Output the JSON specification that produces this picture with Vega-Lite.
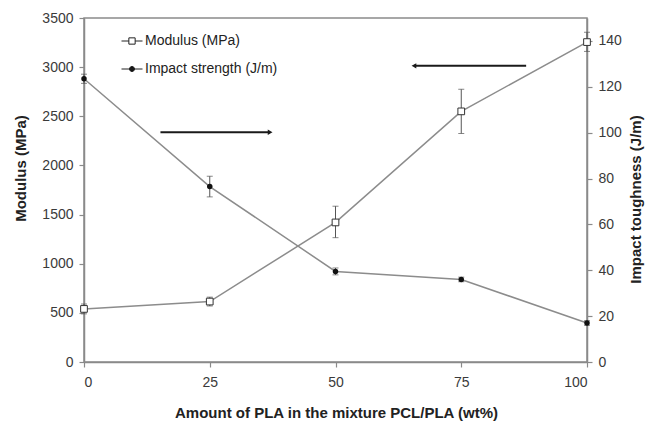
{
  "$schema": "https://vega.github.io/schema/vega-lite/v6.json",
  "width": 503,
  "height": 344,
  "autosize": {"type": "none"},
  "padding": {"left": 84, "top": 18, "right": 58, "bottom": 60},
  "background": "white",
  "config": {
    "view": {"stroke": "#8a8a8a", "strokeWidth": 1.5},
    "font": "Liberation Sans",
    "axis": {
      "grid": false,
      "domainColor": "#8a8a8a",
      "domainWidth": 1.5,
      "tickColor": "#8a8a8a",
      "tickWidth": 1.2,
      "tickSize": 5,
      "labelFont": "Liberation Sans",
      "labelFontSize": 14,
      "labelColor": "#3a3a3a",
      "titleFont": "Liberation Sans",
      "titleFontSize": 15,
      "titleFontWeight": "bold",
      "titleColor": "#222222"
    },
    "legend": {
      "padding": 0,
      "labelFont": "Liberation Sans",
      "labelFontSize": 14,
      "labelColor": "#222222",
      "labelOffset": 2,
      "symbolStrokeColor": "#222222",
      "symbolStrokeWidth": 1,
      "symbolSize": 441,
      "symbolOpacity": 1,
      "rowPadding": 10
    }
  },
  "datasets": {
    "main": [
      {"pla": 0, "modulus": 540, "mod_lo": 490, "mod_hi": 590, "impact": 123.5, "imp_lo": 121.5, "imp_hi": 125.5},
      {"pla": 25, "modulus": 615, "mod_lo": 570, "mod_hi": 660, "impact": 76.5, "imp_lo": 72, "imp_hi": 81},
      {"pla": 50, "modulus": 1420, "mod_lo": 1265, "mod_hi": 1585, "impact": 39.5, "imp_lo": 38, "imp_hi": 41},
      {"pla": 75, "modulus": 2550, "mod_lo": 2325, "mod_hi": 2775, "impact": 36, "imp_lo": 35, "imp_hi": 37},
      {"pla": 100, "modulus": 3255, "mod_lo": 3160, "mod_hi": 3355, "impact": 17, "imp_lo": 16, "imp_hi": 18}
    ],
    "arrows": [
      {"x1": 15.2, "x2": 37.0, "y": 2337, "head": 37.0, "dir": "right"},
      {"x1": 65.6, "x2": 87.9, "y": 3013, "head": 65.6, "dir": "left"}
    ],
    "legend": [
      {"series": "Modulus (MPa)", "px": 0, "py": 0},
      {"series": "Impact strength (J/m)", "px": 0, "py": 0}
    ]
  },
  "layer": [
    {
      "data": {"name": "main"},
      "encoding": {
        "x": {
          "field": "pla", "type": "quantitative",
          "scale": {"domain": [0, 100], "nice": false},
          "axis": {
            "values": [0, 25, 50, 75, 100],
            "labelPadding": 8,
            "title": "Amount of PLA in the mixture PCL/PLA (wt%)",
            "titleX": 252, "titleY": 50, "titleBaseline": "middle"
          }
        }
      },
      "layer": [
        {
          "mark": {"type": "line", "color": "#8c8c8c", "strokeWidth": 1.5},
          "encoding": {
            "y": {
              "field": "modulus", "type": "quantitative",
              "scale": {"domain": [0, 3500], "nice": false},
              "axis": {
                "orient": "left",
                "values": [0, 500, 1000, 1500, 2000, 2500, 3000, 3500],
                "format": "d",
                "labelPadding": 6,
                "title": "Modulus (MPa)",
                "titleX": -64, "titleY": 150, "titleAngle": -90, "titleBaseline": "middle", "titleAlign": "center"
              }
            }
          }
        },
        {
          "mark": {"type": "rule", "color": "#555555", "strokeWidth": 1},
          "encoding": {
            "y": {"field": "mod_lo", "type": "quantitative"},
            "y2": {"field": "mod_hi"}
          }
        },
        {
          "mark": {"type": "tick", "orient": "horizontal", "color": "#555555", "size": 6, "thickness": 1},
          "encoding": {"y": {"field": "mod_lo", "type": "quantitative"}}
        },
        {
          "mark": {"type": "tick", "orient": "horizontal", "color": "#555555", "size": 6, "thickness": 1},
          "encoding": {"y": {"field": "mod_hi", "type": "quantitative"}}
        },
        {
          "mark": {"type": "point", "shape": "square", "size": 45, "filled": true, "fill": "white", "stroke": "#333333", "strokeWidth": 1, "opacity": 1},
          "encoding": {"y": {"field": "modulus", "type": "quantitative"}}
        },
        {
          "data": {"name": "arrows"},
          "mark": {"type": "rule", "color": "#1a1a1a", "strokeWidth": 2},
          "encoding": {
            "x": {"field": "x1", "type": "quantitative"},
            "x2": {"field": "x2"},
            "y": {"field": "y", "type": "quantitative"}
          }
        },
        {
          "data": {"name": "arrows"},
          "transform": [{"filter": "datum.dir == 'right'"}],
          "mark": {"type": "point", "shape": "triangle-right", "filled": true, "color": "#1a1a1a", "size": 30, "opacity": 1},
          "encoding": {
            "x": {"field": "head", "type": "quantitative"},
            "y": {"field": "y", "type": "quantitative"}
          }
        },
        {
          "data": {"name": "arrows"},
          "transform": [{"filter": "datum.dir == 'left'"}],
          "mark": {"type": "point", "shape": "triangle-left", "filled": true, "color": "#1a1a1a", "size": 30, "opacity": 1},
          "encoding": {
            "x": {"field": "head", "type": "quantitative"},
            "y": {"field": "y", "type": "quantitative"}
          }
        },
        {
          "data": {"name": "legend"},
          "mark": {"type": "point", "filled": true, "stroke": "#222222", "strokeWidth": 1, "opacity": 0},
          "encoding": {
            "x": {"field": "px", "type": "quantitative"},
            "y": {"field": "py", "type": "quantitative"},
            "shape": {
              "field": "series", "type": "nominal",
              "scale": {
                "domain": ["Modulus (MPa)", "Impact strength (J/m)"],
                "range": [
                  "M-1,0H-0.3M0.3,0H1M-0.3,-0.3H0.3V0.3H-0.3Z",
                  "M-1,0H1M-0.24,0A0.24,0.24 0 1,0 0.24,0A0.24,0.24 0 1,0 -0.24,0Z"
                ]
              },
              "legend": {
                "title": null, "orient": "none", "legendX": 37, "legendY": 12, "symbolOpacity": 1,
                "symbolStrokeColor": "#222222", "symbolStrokeWidth": 1,
                "encode": {"symbols": {"update": {"stroke": {"value": "#222222"}, "strokeWidth": {"value": 1}, "opacity": {"value": 1}}}}
              }
            },
            "fill": {
              "field": "series", "type": "nominal",
              "scale": {"domain": ["Modulus (MPa)", "Impact strength (J/m)"], "range": ["white", "#111111"]},
              "legend": {
                "title": null, "orient": "none", "legendX": 37, "legendY": 12, "symbolOpacity": 1,
                "symbolStrokeColor": "#222222", "symbolStrokeWidth": 1,
                "encode": {"symbols": {"update": {"stroke": {"value": "#222222"}, "strokeWidth": {"value": 1}, "opacity": {"value": 1}}}}
              }
            }
          }
        }
      ]
    },
    {
      "data": {"name": "main"},
      "encoding": {
        "x": {"field": "pla", "type": "quantitative", "scale": {"domain": [0, 100], "nice": false}}
      },
      "layer": [
        {
          "mark": {"type": "line", "color": "#8c8c8c", "strokeWidth": 1.5},
          "encoding": {
            "y": {
              "field": "impact", "type": "quantitative",
              "scale": {"domain": [0, 150], "nice": false},
              "axis": {
                "orient": "right",
                "values": [0, 20, 40, 60, 80, 100, 120, 140],
                "labelPadding": 6,
                "title": "Impact toughness (J/m)",
                "titleX": 48, "titleY": 181, "titleAngle": -90, "titleBaseline": "middle", "titleAlign": "center"
              }
            }
          }
        },
        {
          "mark": {"type": "rule", "color": "#555555", "strokeWidth": 1},
          "encoding": {
            "y": {"field": "imp_lo", "type": "quantitative"},
            "y2": {"field": "imp_hi"}
          }
        },
        {
          "mark": {"type": "tick", "orient": "horizontal", "color": "#555555", "size": 6, "thickness": 1},
          "encoding": {"y": {"field": "imp_lo", "type": "quantitative"}}
        },
        {
          "mark": {"type": "tick", "orient": "horizontal", "color": "#555555", "size": 6, "thickness": 1},
          "encoding": {"y": {"field": "imp_hi", "type": "quantitative"}}
        },
        {
          "mark": {"type": "point", "shape": "circle", "size": 30, "filled": true, "color": "#111111", "opacity": 1},
          "encoding": {"y": {"field": "impact", "type": "quantitative"}}
        }
      ]
    }
  ],
  "resolve": {"scale": {"y": "independent"}}
}
